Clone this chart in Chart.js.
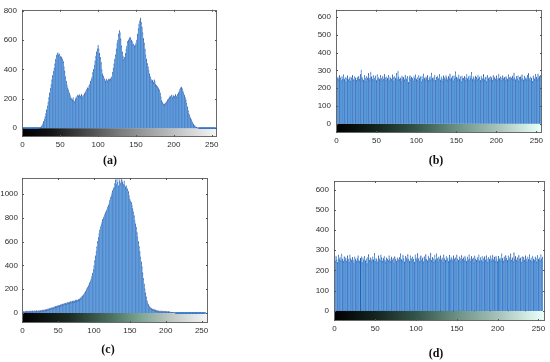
<!DOCTYPE html>
<html><head><meta charset="utf-8">
<script src="https://cdn.jsdelivr.net/npm/chart.js@4.4.1/dist/chart.umd.min.js"></script>
<style>
html,body{margin:0;padding:0;background:#fff;}
#wrap{position:relative;width:550px;height:362px;overflow:hidden;background:#fff;}
canvas{position:absolute;left:0;top:0;}
.lab{position:absolute;font-family:"Liberation Serif","DejaVu Serif",serif;font-weight:bold;font-size:12px;color:#111;transform:translate(-50%,-50%);white-space:nowrap;}
</style></head><body>
<div id="wrap">
<canvas id="ca" width="550" height="362"></canvas>
<canvas id="cb" width="550" height="362"></canvas>
<canvas id="cc" width="550" height="362"></canvas>
<canvas id="cd" width="550" height="362"></canvas>
<div class="lab" style="left:110px;top:160px">(a)</div>
<div class="lab" style="left:436px;top:160px">(b)</div>
<div class="lab" style="left:108px;top:349px">(c)</div>
<div class="lab" style="left:436px;top:353px">(d)</div>
</div>
<script>
// gray levels (histogram bins)
const bins = Array.from({length:256}, (_, i) => i);
const xTickLabels = [0, 50, 100, 150, 200, 250];
const yTicksA = [0, 200, 400, 600, 800];
const yTicksB = [0, 100, 200, 300, 400, 500, 600];
const yTicksC = [0, 200, 400, 600, 800, 1000];
const yTicksD = [0, 100, 200, 300, 400, 500, 600];

// (a) original image histogram
const histA = [
0,0,0,0,0,0,0,0,0,0,0,0,0,0,0,0,
0,0,0,0,0,0,0,3,6,12,20,30,45,60,80,100,
125,150,180,210,240,270,300,330,360,385,410,440,470,495,510,515,
500,505,490,480,485,470,455,420,390,350,320,295,275,260,240,225,
210,200,195,210,190,180,200,215,205,225,220,230,225,215,230,220,
210,225,235,245,255,265,275,270,290,300,320,335,350,380,400,430,
460,490,520,540,565,540,510,480,450,400,370,355,340,330,320,335,
325,320,335,330,340,330,350,380,410,440,470,500,540,580,600,640,
665,650,610,560,520,490,470,480,510,540,560,590,600,610,620,615,
600,590,575,570,560,565,580,600,640,680,710,730,750,720,690,650,
610,580,540,500,470,440,420,395,370,350,335,320,325,310,330,320,
300,290,285,280,270,260,240,215,190,175,165,160,165,170,180,185,
195,200,210,220,215,225,210,225,220,215,230,220,215,230,240,250,
265,275,280,270,255,240,225,210,195,170,145,120,100,85,70,58,
46,36,28,20,14,9,5,3,1,0,0,0,0,0,0,0,
0,0,0,0,0,0,0,0,0,0,0,0,0,0,0,0
];

// (b) encrypted image histogram
const histB = [
268,255,262,248,271,258,244,266,252,275,249,260,238,257,269,246,
254,263,241,258,272,250,247,265,256,243,261,253,268,249,276,302,
262,251,244,270,257,239,266,254,281,248,259,290,263,250,272,245,
258,267,242,276,254,261,249,270,256,244,268,251,278,259,247,264,
253,271,245,262,257,249,274,260,243,266,255,281,250,296,263,248,
257,240,269,252,261,246,273,258,250,265,232,259,270,248,262,254,
243,267,256,275,249,260,245,272,255,263,238,268,251,279,257,246,
264,253,270,242,258,266,250,284,256,247,262,273,244,259,268,251,
257,276,245,263,254,241,269,258,250,272,261,246,265,255,280,249,
258,267,243,271,256,292,262,248,259,274,251,264,240,269,257,253,
266,245,260,278,252,263,247,271,258,288,250,265,256,242,268,259,
249,273,255,262,244,267,257,251,276,246,260,264,239,270,254,261,
248,266,258,243,272,255,262,250,269,245,257,279,253,264,247,260,
271,252,259,244,266,257,249,274,261,246,263,255,268,251,286,258,
247,265,254,270,242,259,263,250,276,256,245,268,253,261,249,272,
282,257,246,264,255,237,269,258,251,278,262,248,280,256,265,270
];

// (c) original image histogram
const histC = [
8,10,12,10,14,12,15,13,16,14,15,17,14,16,18,15,
17,19,16,18,20,17,19,21,18,20,22,21,24,23,26,25,
28,30,29,32,35,34,38,40,42,45,43,48,50,52,55,53,
58,60,62,65,63,68,70,72,75,78,74,80,82,85,80,88,
90,86,92,95,90,98,100,96,104,100,108,105,110,106,115,112,
118,125,130,138,145,152,160,170,180,192,205,215,228,240,255,270,
290,310,335,365,400,440,480,520,560,600,635,670,700,725,745,765,
785,800,815,830,845,860,870,890,905,925,950,970,990,1010,1030,1045,
1060,1090,1120,1080,1160,1100,1070,1150,1110,1090,1170,1120,1100,1080,1110,1075,
1060,1070,1050,1040,1020,990,960,940,930,910,880,850,820,780,750,720,
680,640,600,560,520,470,430,390,340,290,245,205,170,135,105,85,
70,58,50,44,40,36,33,30,28,26,24,22,20,19,18,17,
16,15,16,14,15,13,14,12,13,11,12,10,11,9,8,7,
6,5,4,3,2,1,0,0,0,0,0,0,0,0,0,0,
0,0,0,0,0,0,0,0,0,0,0,0,0,0,0,0,
0,0,0,0,0,0,0,0,0,0,0,0,0,0,0,0
];

// (d) encrypted image histogram
const histD = [
262,248,271,255,240,276,258,266,250,281,257,245,269,254,263,247,
272,256,243,278,260,249,265,252,238,268,257,246,261,274,251,244,
259,267,241,263,253,270,248,258,236,265,279,250,262,245,256,268,
253,284,247,261,255,242,272,258,250,277,264,246,259,270,251,240,
263,256,249,274,258,244,266,252,261,238,269,255,247,262,257,250,
265,283,254,248,276,259,243,270,262,251,280,256,245,273,260,249,
268,255,241,277,263,252,284,258,246,266,274,250,261,243,269,257,
280,254,248,271,262,256,286,249,265,259,244,276,253,282,260,247,
267,255,273,251,263,240,278,258,249,270,256,262,245,274,253,266,
259,248,272,255,264,243,277,257,250,268,261,246,275,254,263,249,
271,258,244,266,253,279,260,247,269,255,262,241,273,257,250,265,
256,278,248,263,252,270,245,259,267,251,274,258,243,264,255,272,
249,261,276,253,266,247,271,258,244,269,256,263,251,282,259,246,
268,254,275,260,249,272,257,265,283,252,262,245,288,258,270,251,
264,247,276,256,261,242,269,253,266,250,273,258,245,267,255,278,
252,263,246,271,257,249,268,260,244,275,255,262,250,279,258,266
];

const gradGray = [[0,'#000000'],[0.15,'#141414'],[0.5,'#7a7a7a'],[1,'#f4f4f4']];
const gradBoneB = [[0,'#000000'],[0.2,'#14251f'],[0.4,'#36574b'],[0.6,'#6f9486'],[0.8,'#aac6bc'],[1,'#e8fff8']];
const gradBoneC = [[0,'#000000'],[0.25,'#1a2a22'],[0.5,'#4f7564'],[0.65,'#7fa694'],[0.8,'#b9c4bf'],[1,'#f2f2f2']];

const YW = 30, XH = 16, W = 550, H = 362;

const boxPlugin = {
  id: 'box',
  beforeDatasetsDraw(chart, args, opts) {
    const {ctx, chartArea: a, scales: {x, y}} = chart;
    const y0 = y.getPixelForValue(0);
    const g = ctx.createLinearGradient(x.getPixelForValue(0), 0, x.getPixelForValue(255), 0);
    opts.stops.forEach(s => g.addColorStop(s[0], s[1]));
    ctx.save();
    ctx.fillStyle = g;
    ctx.fillRect(a.left, y0, a.right - a.left, a.bottom - y0);
    ctx.restore();
  },
  afterDraw(chart) {
    const {ctx, chartArea: a, scales: {x, y}} = chart;
    ctx.save();
    ctx.strokeStyle = '#6a6a6a';
    ctx.lineWidth = 1;
    ctx.strokeRect(Math.round(a.left) + 0.5, Math.round(a.top) + 0.5,
                   Math.round(a.right - a.left) - 1, Math.round(a.bottom - a.top) - 1);
    ctx.strokeStyle = '#555';
    ctx.beginPath();
    x.ticks.forEach(t => {
      const px = Math.round(x.getPixelForValue(t.value)) + 0.5;
      ctx.moveTo(px, a.bottom); ctx.lineTo(px, a.bottom - 2);
      ctx.moveTo(px, a.top); ctx.lineTo(px, a.top + 2);
    });
    y.ticks.forEach(t => {
      const py = Math.round(y.getPixelForValue(t.value)) + 0.5;
      ctx.moveTo(a.left, py); ctx.lineTo(a.left + 2, py);
      ctx.moveTo(a.right, py); ctx.lineTo(a.right - 2, py);
    });
    ctx.stroke();
    ctx.restore();
  }
};

function makePanel(id, hist, box, xr, yr, yTicks, stops, yPad) {
  const [l, t, r, b] = box;
  const tickFont = {family: "'Liberation Sans', Arial, sans-serif", size: 8};
  new Chart(document.getElementById(id), {
    type: 'bar',
    data: {
      datasets: [{
        data: bins.map((v, i) => ({x: v, y: hist[i]})),
        backgroundColor: (c) => (c.dataIndex % 2 ? '#3189dc' : '#2560b4'),
        borderColor: '#2b3a8c',
        borderWidth: {top: 1, left: 0, right: 0, bottom: 0},
        borderSkipped: 'start',
        barPercentage: 1,
        categoryPercentage: 1,
        grouped: false,
        inflateAmount: 0.6,
        clip: 0
      }]
    },
    options: {
      responsive: false,
      animation: false,
      devicePixelRatio: 1,
      layout: {padding: {left: l - YW, top: t, right: W - r, bottom: H - b - XH}},
      plugins: {legend: {display: false}, tooltip: {enabled: false}, box: {stops}},
      scales: {
        x: {
          type: 'linear', min: xr[0], max: xr[1], offset: false,
          afterFit: s => { s.height = XH; },
          afterBuildTicks: s => { s.ticks = xTickLabels.map(v => ({value: v})); },
          grid: {display: false, drawTicks: false, offset: false},
          border: {display: false},
          ticks: {padding: 3, font: tickFont, color: '#2e2e2e', maxRotation: 0, autoSkip: false,
                  callback: v => String(v)}
        },
        y: {
          type: 'linear', min: yr[0], max: yr[1],
          afterFit: s => { s.width = YW; },
          afterBuildTicks: s => { s.ticks = yTicks.map(v => ({value: v})); },
          grid: {display: false, drawTicks: false},
          border: {display: false},
          ticks: {padding: yPad, font: tickFont, color: '#2e2e2e', autoSkip: false,
                  callback: v => String(v)}
        }
      }
    },
    plugins: [boxPlugin]
  });
}

makePanel('ca', histA, [22, 4, 217, 137], [-0.5, 257], [-60, 806], yTicksA, gradGray, 5);
makePanel('cb', histB, [336, 7, 542, 133], [-0.5, 257], [-52, 640], yTicksB, gradBoneB, 5);
makePanel('cc', histC, [22, 178, 208, 323], [-0.5, 259], [-84, 1135], yTicksC, gradBoneC, 4);
makePanel('cd', histD, [334, 181, 545, 321], [-0.5, 258], [-50, 643], yTicksD, gradBoneB, 5);
</script>
</body></html>
